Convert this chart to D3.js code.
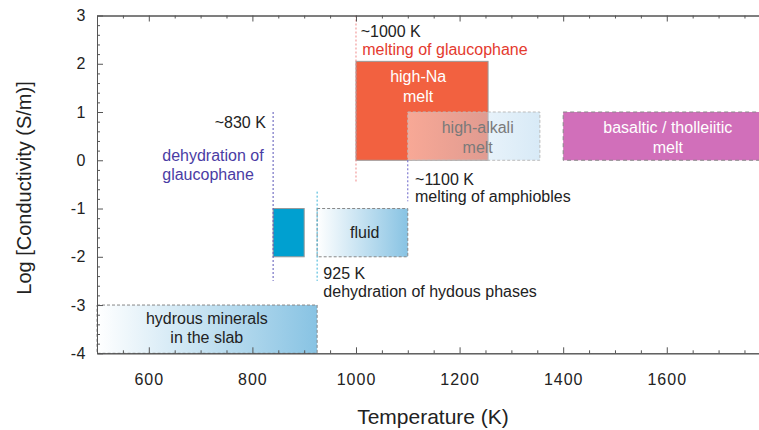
<!DOCTYPE html>
<html>
<head>
<meta charset="utf-8">
<script src="https://cdn.jsdelivr.net/npm/d3@7"></script>
<style>
  body { margin: 0; background: #fff; }
  svg { font-family: "Liberation Sans", Arial, sans-serif; }
</style>
</head>
<body>
<svg id="chart" width="759" height="430"></svg>
<script>
// tick values
var xTicks = [600, 800, 1000, 1200, 1400, 1600];
var yTicks = [-4, -3, -2, -1, 0, 1, 2, 3];

// conductivity fields: temperature range (K) and log conductivity range
var regionNames = ["hydrous", "glaucophane", "fluid", "highNa", "highAlkali", "basaltic"];
var regionLabels = [["hydrous minerals", "in the slab"], [], ["fluid"], ["high-Na", "melt"], ["high-alkali", "melt"], ["basaltic / tholleiitic", "melt"]];
var regionT0 = [500, 840, 925, 1000, 1100, 1400];
var regionT1 = [925, 900, 1100, 1255, 1355, 1780];
var regionLo = [-4, -2, -2, 0, 0, 0];
var regionHi = [-3, -1, -1, 2.05, 1, 1];
var labelT = [712, 870, 1017, 1120, 1235, 1602];
var labelV = [-3.47, -1.5, -1.5, 1.53, 0.47, 0.47];

// dashed transition lines
var boundaryTemps = [840, 925, 1000, 1100];
var boundaryTop = [1, -0.65, 3, 0];
var boundaryBottom = [-2.5, -2.5, -0.45, -0.85];

// annotations
var noteTexts = ["~830 K", "dehydration of", "glaucophane", "~1000 K", "melting of glaucophane",
                 "~1100 K", "melting of amphiobles", "925 K", "dehydration of hydous phases"];
var noteT = [826, 626, 626, 1009, 1012, 1114, 1114, 937, 937];
var noteV = [0.78, 0.11, -0.30, 2.68, 2.30, -0.39, -0.75, -2.34, -2.72];

var regionStyle = {
  hydrous:     { fill: "url(#gBlue)", stroke: "#888", dash: "3,2", text: "#222" },
  glaucophane: { fill: "#00a0d0", stroke: "#999", dash: null, text: "#222" },
  fluid:       { fill: "url(#gBlue)", stroke: "#888", dash: "3,2", text: "#222" },
  highNa:      { fill: "#f26140", stroke: "#999", dash: null, text: "#fff" },
  highAlkali:  { fill: "url(#gAlkali)", stroke: "#bbb", dash: "3,2", text: "#7a7a7a" },
  basaltic:    { fill: "#d16fba", stroke: "#888", dash: "4,3", text: "#fff" }
};
var boundaryColor = ["#5a55b8", "#3bb3d8", "#f08888", "#6660c8"];
var noteColor = ["#222", "#4a3ca4", "#4a3ca4", "#222", "#e43a2e", "#222", "#222", "#222", "#222"];
var noteAnchor = ["end", "start", "start", "start", "start", "start", "start", "start", "start"];

var svg = d3.select("#chart");

var x = d3.scaleLinear().domain([500, 1780]).range([97, 760]);
var y = d3.scaleLinear().domain([-4, 3]).range([353.3, 15.5]);

var defs = svg.append("defs");
var gb = defs.append("linearGradient").attr("id", "gBlue");
gb.append("stop").attr("offset", "0%").attr("stop-color", "#ffffff");
gb.append("stop").attr("offset", "100%").attr("stop-color", "#88c3e3");
var ga = defs.append("linearGradient").attr("id", "gAlkali");
ga.append("stop").attr("offset", "0%").attr("stop-color", "#ffffff").attr("stop-opacity", 0.45);
ga.append("stop").attr("offset", "100%").attr("stop-color", "#a8d0ec").attr("stop-opacity", 0.45);

// regions
regionNames.forEach(function(name, i) {
  var s = regionStyle[name];
  svg.append("rect")
    .attr("x", x(regionT0[i]))
    .attr("y", y(regionHi[i]))
    .attr("width", x(regionT1[i]) - x(regionT0[i]))
    .attr("height", y(regionLo[i]) - y(regionHi[i]))
    .attr("fill", s.fill)
    .attr("stroke", s.stroke)
    .attr("stroke-width", 1)
    .attr("stroke-dasharray", s.dash);
});

// boundary lines
boundaryTemps.forEach(function(t, i) {
  svg.append("line")
    .attr("x1", x(t)).attr("x2", x(t))
    .attr("y1", y(boundaryTop[i])).attr("y2", y(boundaryBottom[i]))
    .attr("stroke", boundaryColor[i])
    .attr("stroke-width", 1)
    .attr("stroke-dasharray", "2,2");
});

// region labels
regionNames.forEach(function(name, i) {
  var lines = regionLabels[i];
  var n = lines.length;
  lines.forEach(function(l, j) {
    svg.append("text")
      .attr("x", x(labelT[i]))
      .attr("y", y(labelV[i]) + (j - (n - 1) / 2) * 19.5)
      .attr("dy", "0.35em")
      .attr("text-anchor", "middle")
      .attr("font-size", 16)
      .attr("fill", regionStyle[name].text)
      .text(l);
  });
});

// annotations
noteTexts.forEach(function(t, i) {
  svg.append("text")
    .attr("x", x(noteT[i]))
    .attr("y", y(noteV[i]))
    .attr("dy", "0.35em")
    .attr("text-anchor", noteAnchor[i])
    .attr("font-size", 16)
    .attr("fill", noteColor[i])
    .text(t);
});

// axes
var xMinor = d3.range(500, 1781, 50).filter(function(v) { return xTicks.indexOf(v) < 0; });
var yMinor = d3.range(-40, 31, 2).map(function(v) { return v / 10; }).filter(function(v) { return yTicks.indexOf(v) < 0; });

function styleAxis(g) {
  g.select(".domain").attr("stroke", "#555");
  g.selectAll(".tick line").attr("stroke", "#555");
}

// bottom
svg.append("g").attr("transform", "translate(0," + y(-4) + ")")
  .call(d3.axisBottom(x).tickValues(xMinor).tickSizeInner(-3).tickSizeOuter(0).tickFormat(""))
  .call(styleAxis);
svg.append("g").attr("transform", "translate(0," + y(-4) + ")")
  .call(d3.axisBottom(x).tickValues(xTicks).tickSizeInner(-6).tickSizeOuter(0).tickPadding(20).tickFormat(d3.format("d")))
  .call(styleAxis)
  .call(function(g) {
    g.selectAll("text").attr("font-size", 16).attr("fill", "#222").attr("letter-spacing", 1)
      .attr("font-family", "Liberation Sans, Arial, sans-serif");
  });
// top
svg.append("g").attr("transform", "translate(0," + y(3) + ")")
  .call(d3.axisTop(x).tickValues(xMinor).tickSizeInner(-3).tickSizeOuter(0).tickFormat(""))
  .call(styleAxis);
svg.append("g").attr("transform", "translate(0," + y(3) + ")")
  .call(d3.axisTop(x).tickValues(xTicks).tickSizeInner(-6).tickSizeOuter(0).tickFormat(""))
  .call(styleAxis);
// left
svg.append("g").attr("transform", "translate(" + x(500) + ",0)")
  .call(d3.axisLeft(y).tickValues(yMinor).tickSizeInner(-3).tickSizeOuter(0).tickFormat(""))
  .call(styleAxis);
svg.append("g").attr("transform", "translate(" + x(500) + ",0)")
  .call(d3.axisLeft(y).tickValues(yTicks).tickSizeInner(-6).tickSizeOuter(0).tickPadding(11).tickFormat(d3.format("d")))
  .call(styleAxis)
  .call(function(g) {
    g.selectAll("text").attr("font-size", 16).attr("fill", "#222").attr("letter-spacing", 0.5)
      .attr("font-family", "Liberation Sans, Arial, sans-serif").text(function(d) { return String(d); });
  });

// axis titles
svg.append("text")
  .attr("x", 433).attr("y", 417).attr("dy", "0.35em")
  .attr("text-anchor", "middle").attr("font-size", 21).attr("fill", "#222")
  .text("Temperature (K)");
svg.append("text")
  .attr("transform", "translate(24,188) rotate(-90)")
  .attr("dy", "0.35em")
  .attr("text-anchor", "middle").attr("font-size", 20).attr("fill", "#222")
  .text("Log [Conductivity (S/m)]");
</script>
</body>
</html>
